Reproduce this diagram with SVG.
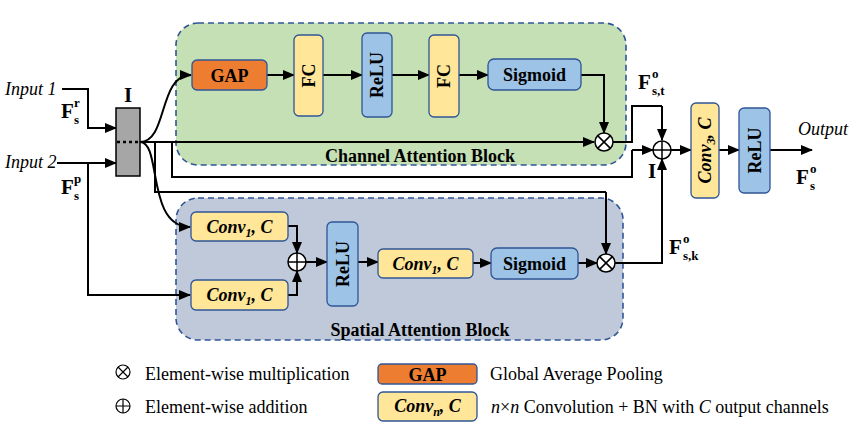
<svg xmlns="http://www.w3.org/2000/svg" width="852" height="438" viewBox="0 0 852 438">
<defs>
<marker id="ah" markerUnits="userSpaceOnUse" markerWidth="12" markerHeight="10" refX="11" refY="5" orient="auto">
<path d="M0,0 L12,5 L0,10 Z" fill="#000"/>
</marker>
<style>
text{font-family:"Liberation Serif","Times New Roman",serif;fill:#000}
.b{font-weight:bold;font-size:18px}
.bi{font-weight:bold;font-style:italic;font-size:18px}
.it{font-style:italic;font-size:18px}
.lg{font-size:18px}
.f{font-weight:bold;font-size:21px}
.fs{font-weight:bold;font-size:13px}
.blk{fill:none;stroke:#2F5597;stroke-width:1.6;stroke-dasharray:6,4}
.box{stroke:#2F5597;stroke-width:1.3}
.or{fill:#ED7D31}
.ye{fill:#FFE699}
.bl{fill:#9DC3E6}
.ln{fill:none;stroke:#000;stroke-width:2}
.ar{fill:none;stroke:#000;stroke-width:2;marker-end:url(#ah)}
.op{fill:#fff;stroke:#000;stroke-width:1.5}
</style>
</defs>
<rect width="852" height="438" fill="#fff"/>

<g id="channel-block">
<rect x="176" y="23" width="450" height="142" rx="22" fill="#C5E0B4"/>
<rect x="176" y="23" width="450" height="142" rx="22" class="blk"/>
<text x="420" y="162" class="b" text-anchor="middle">Channel Attention Block</text>
</g>
<g id="spatial-block">
<rect x="176" y="198" width="447" height="142" rx="22" fill="#BFC9D9"/>
<rect x="176" y="198" width="447" height="142" rx="22" class="blk"/>
<text x="420" y="336" class="b" text-anchor="middle">Spatial Attention Block</text>
</g>

<g id="connectors">
<polyline class="ar" points="62,89 88,89 88,128 116,128"/>
<polyline class="ar" points="57,163 116,163"/>
<polyline class="ar" points="88,163 88,295 190,295"/>
<path class="ar" d="M140,142 C168,142 158,75 191,75"/>
<polyline class="ar" points="140,142 594,142"/>
<polyline class="ln" points="172,142 172,177 632,177 632,150"/>
<polyline class="ar" points="632,150 653,150"/>
<polyline class="ln" points="155,142 155,192 606,192"/>
<polyline class="ar" points="606,192 606,254"/>
<path class="ar" d="M140,142 C162,142 146,227 190,227"/>
<polyline class="ar" points="267,75 294,75"/>
<polyline class="ar" points="323,75 362,75"/>
<polyline class="ar" points="392,75 429,75"/>
<polyline class="ar" points="459,75 488,75"/>
<polyline class="ar" points="581,75 604,75 604,133"/>
<polyline class="ln" points="613,142 632,142 632,106 662,106"/>
<polyline class="ar" points="662,106 662,140"/>
<polyline class="ar" points="288,226 297,226 297,253"/>
<polyline class="ar" points="288,295 297,295 297,271"/>
<polyline class="ar" points="306,262 327,262"/>
<polyline class="ar" points="358,262 378,262"/>
<polyline class="ar" points="473,263 491,263"/>
<polyline class="ar" points="578,263 597,263"/>
<polyline class="ln" points="615,263 662,263 662,185"/>
<polyline class="ar" points="662,186 662,159"/>
<polyline class="ar" points="671,150 691,150"/>
<polyline class="ar" points="719,150 739,150"/>
<polyline class="ar" points="770,150 812,150"/>
</g>

<g id="input-block">
<rect x="116" y="108" width="24" height="68" fill="#A6A6A6" stroke="#000" stroke-width="1.5"/>
<line x1="117" y1="142" x2="139" y2="142" stroke="#000" stroke-width="2.5" stroke-dasharray="3,3"/>
<text x="128" y="102" class="f" text-anchor="middle">I</text>
</g>

<g id="labels">
<text x="5" y="95" class="it">Input 1</text>
<text x="5" y="168" class="it">Input 2</text>
<text x="61" y="118" class="f">F</text><text x="74" y="107" class="fs">r</text><text x="74" y="124" class="fs">s</text>
<text x="61" y="194" class="f">F</text><text x="74" y="183" class="fs">p</text><text x="74" y="200" class="fs">s</text>
<text x="638" y="89" class="f">F</text><text x="652" y="78" class="fs">o</text><text x="652" y="95" class="fs">s,t</text>
<text x="648" y="178" class="f">I</text>
<text x="669" y="254" class="f">F</text><text x="683" y="243" class="fs">o</text><text x="683" y="260" class="fs">s,k</text>
<text x="798" y="135" class="it">Output</text>
<text x="796" y="184" class="f">F</text><text x="810" y="173" class="fs">o</text><text x="810" y="190" class="fs">s</text>
</g>

<g id="gap">
<rect x="192" y="60" width="75" height="30" rx="5" class="box or"/>
<text x="229.5" y="81.5" class="b" text-anchor="middle">GAP</text>
</g>
<g id="fc1">
<rect x="294" y="35" width="29" height="81" rx="5" class="box ye"/>
<text transform="translate(308.5,75.5) rotate(-90)" y="6" class="b" text-anchor="middle">FC</text>
</g>
<g id="relu1">
<rect x="362" y="33" width="30" height="84" rx="5" class="box bl"/>
<text transform="translate(377,75) rotate(-90)" y="6" class="b" text-anchor="middle">ReLU</text>
</g>
<g id="fc2">
<rect x="429" y="35" width="30" height="82" rx="5" class="box ye"/>
<text transform="translate(444,76) rotate(-90)" y="6" class="b" text-anchor="middle">FC</text>
</g>
<g id="sigmoid1">
<rect x="488" y="59" width="93" height="31" rx="6" class="box bl"/>
<text x="534.5" y="81" class="b" text-anchor="middle">Sigmoid</text>
</g>
<g id="mul1">
<circle cx="604" cy="142" r="9" class="op"/>
<path d="M597.6,135.6 L610.4,148.4 M610.4,135.6 L597.6,148.4" stroke="#000" stroke-width="1.5"/>
</g>

<g id="conv-a">
<rect x="191" y="212" width="97" height="29" rx="5" class="box ye"/>
<text x="239.5" y="233" class="bi" text-anchor="middle">Conv<tspan font-size="12" dy="4">1</tspan><tspan dy="-4">, C</tspan></text>
</g>
<g id="conv-b">
<rect x="191" y="280" width="97" height="30" rx="5" class="box ye"/>
<text x="239.5" y="301" class="bi" text-anchor="middle">Conv<tspan font-size="12" dy="4">1</tspan><tspan dy="-4">, C</tspan></text>
</g>
<g id="add1">
<circle cx="297" cy="262" r="9" class="op"/>
<path d="M288,262 H306 M297,253 V271" stroke="#000" stroke-width="1.5"/>
</g>
<g id="relu2">
<rect x="327" y="222" width="31" height="84" rx="5" class="box bl"/>
<text transform="translate(342.5,264) rotate(-90)" y="6" class="b" text-anchor="middle">ReLU</text>
</g>
<g id="conv-c">
<rect x="378" y="249" width="95" height="29" rx="5" class="box ye"/>
<text x="425.5" y="270" class="bi" text-anchor="middle">Conv<tspan font-size="12" dy="4">1</tspan><tspan dy="-4">, C</tspan></text>
</g>
<g id="sigmoid2">
<rect x="491" y="248" width="87" height="31" rx="6" class="box bl"/>
<text x="534.5" y="270" class="b" text-anchor="middle">Sigmoid</text>
</g>
<g id="mul2">
<circle cx="606" cy="263" r="9" class="op"/>
<path d="M599.6,256.6 L612.4,269.4 M612.4,256.6 L599.6,269.4" stroke="#000" stroke-width="1.5"/>
</g>

<g id="add2">
<circle cx="662" cy="150" r="9" class="op"/>
<path d="M653,150 H671 M662,141 V159" stroke="#000" stroke-width="1.5"/>
</g>
<g id="conv3">
<rect x="691" y="103" width="28" height="95" rx="5" class="box ye"/>
<text transform="translate(705,150.5) rotate(-90)" y="6" class="bi" text-anchor="middle">Conv<tspan font-size="12" dy="4">3</tspan><tspan dy="-4">, C</tspan></text>
</g>
<g id="relu3">
<rect x="739" y="108" width="31" height="85" rx="5" class="box bl"/>
<text transform="translate(754.5,150.5) rotate(-90)" y="6" class="b" text-anchor="middle">ReLU</text>
</g>

<g id="legend">
<circle cx="123" cy="372" r="7" fill="none" stroke="#000" stroke-width="1.2"/>
<path d="M118,367 L128,377 M128,367 L118,377" stroke="#000" stroke-width="1.2"/>
<text x="145" y="380" class="lg">Element-wise multiplication</text>
<circle cx="123" cy="406" r="7" fill="none" stroke="#000" stroke-width="1.2"/>
<path d="M116,406 H130 M123,399 V413" stroke="#000" stroke-width="1.2"/>
<text x="145" y="413" class="lg">Element-wise addition</text>
<rect x="378" y="364" width="99" height="20" rx="4" class="box or"/>
<text x="427.5" y="380.5" class="b" text-anchor="middle">GAP</text>
<rect x="378" y="392" width="99" height="29" rx="5" class="box ye"/>
<text x="427.5" y="412" class="bi" text-anchor="middle">Conv<tspan font-size="12" dy="4">n</tspan><tspan dy="-4">, C</tspan></text>
<text x="490" y="380" class="lg">Global Average Pooling</text>
<text x="491" y="413" class="lg"><tspan font-style="italic">n</tspan>×<tspan font-style="italic">n</tspan> Convolution  + BN with <tspan font-style="italic">C</tspan> output channels</text>
</g>
</svg>
